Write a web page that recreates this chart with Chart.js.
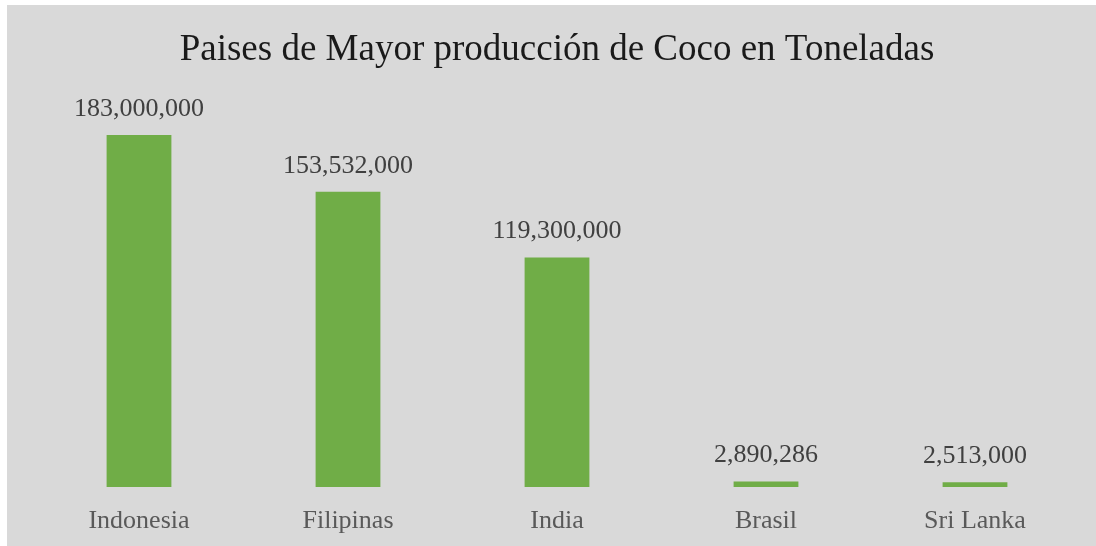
<!DOCTYPE html>
<html>
<head>
<meta charset="utf-8">
<script src="https://cdn.jsdelivr.net/npm/chart.js@4.4.0/dist/chart.umd.min.js"></script>
<style>
    html, body { margin: 0; padding: 0; background: #ffffff; }
    #wrap {
        position: absolute;
        left: 7px;
        top: 5px;
        width: 1089px;
        height: 541px;
        background: #d9d9d9;
    }
</style>
</head>
<body>
<div id="wrap"><canvas id="chart"></canvas></div>
<script>
    // Chart data
    var paises = ['Indonesia', 'Filipinas', 'India', 'Brasil', 'Sri Lanka'];
    var toneladas = [183000000, 153532000, 119300000, 2890286, 2513000];
    var etiquetas = ['183,000,000', '153,532,000', '119,300,000', '2,890,286', '2,513,000'];

    var serif = "'Liberation Serif', 'Times New Roman', serif";

    // Draw value labels above each bar
    var valueLabels = {
        id: 'valueLabels',
        afterDatasetsDraw: function(chart) {
            var ctx = chart.ctx;
            var meta = chart.getDatasetMeta(0);
            ctx.save();
            ctx.font = '26px ' + serif;
            ctx.fillStyle = '#404040';
            ctx.textAlign = 'center';
            ctx.textBaseline = 'middle';
            meta.data.forEach(function(bar, i) {
                ctx.fillText(etiquetas[i], bar.x, bar.y - 26);
            });
            ctx.restore();
        }
    };

    var canvas = document.getElementById('chart');
    canvas.width = 1089;
    canvas.height = 541;

    new Chart(canvas.getContext('2d'), {
        type: 'bar',
        data: {
            labels: paises,
            datasets: [{
                data: toneladas,
                backgroundColor: '#70ad47',
                borderWidth: 0,
                categoryPercentage: 1,
                barPercentage: 0.31
            }]
        },
        options: {
            responsive: false,
            animation: false,
            layout: {
                padding: { left: 27.5, right: 16.5, top: 13, bottom: 0 }
            },
            plugins: {
                legend: { display: false },
                tooltip: { enabled: false },
                title: {
                    display: true,
                    text: 'Paises de Mayor producción de Coco en Toneladas',
                    color: '#1a1a1a',
                    font: { family: serif, size: 37, weight: 'normal' },
                    padding: { top: 10, bottom: 30 }
                }
            },
            scales: {
                x: {
                    grid: { display: false, drawTicks: false },
                    border: { display: false },
                    ticks: {
                        color: '#595959',
                        padding: 19,
                        font: { family: serif, size: 26 }
                    },
                    afterFit: function(scale) {
                        scale.height = 59;
                    }
                },
                y: {
                    display: false,
                    min: 0,
                    max: 200000000
                }
            }
        },
        plugins: [valueLabels]
    });
</script>
</body>
</html>
